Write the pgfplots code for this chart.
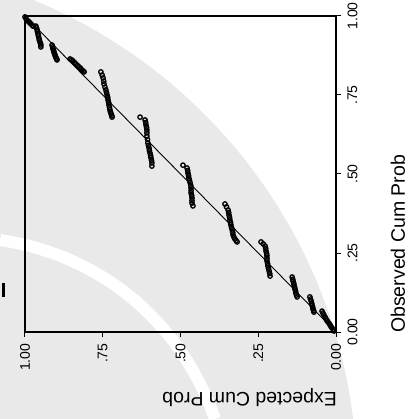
\documentclass[border=0pt]{standalone}
\usepackage{fontspec}
\setmainfont{Liberation Sans}
\usepackage{pgfplots}
\pgfplotsset{compat=1.18}
\usepackage{pgfplotstable}
\definecolor{wm}{RGB}{233,233,233}

\pgfplotstableread{
exp obs
1.000 0.997
0.997 0.992
0.994 0.987
0.990 0.984
0.987 0.981
0.984 0.978
0.981 0.975
0.977 0.971
0.974 0.968
0.965 0.968
0.963 0.962
0.961 0.956
0.960 0.950
0.958 0.943
0.957 0.937
0.955 0.930
0.954 0.924
0.952 0.918
0.950 0.913
0.949 0.908
0.949 0.902
0.913 0.908
0.911 0.902
0.910 0.896
0.908 0.891
0.907 0.886
0.905 0.881
0.904 0.877
0.902 0.872
0.900 0.867
0.898 0.864
0.897 0.861
0.855 0.864
0.850 0.861
0.846 0.858
0.841 0.853
0.836 0.848
0.831 0.843
0.826 0.839
0.821 0.834
0.817 0.829
0.813 0.826
0.810 0.823
0.756 0.823
0.752 0.813
0.749 0.804
0.747 0.794
0.746 0.785
0.743 0.775
0.740 0.766
0.738 0.758
0.736 0.750
0.734 0.742
0.733 0.734
0.731 0.726
0.730 0.718
0.728 0.710
0.727 0.703
0.725 0.696
0.723 0.690
0.721 0.685
0.720 0.680
0.630 0.680
0.614 0.671
0.612 0.663
0.611 0.655
0.609 0.647
0.608 0.639
0.608 0.630
0.608 0.620
0.606 0.609
0.605 0.598
0.603 0.590
0.601 0.582
0.600 0.574
0.598 0.566
0.596 0.558
0.595 0.551
0.593 0.543
0.592 0.535
0.592 0.525
0.492 0.528
0.479 0.519
0.477 0.511
0.476 0.503
0.474 0.495
0.473 0.487
0.471 0.480
0.469 0.472
0.467 0.464
0.466 0.456
0.466 0.448
0.466 0.440
0.464 0.432
0.463 0.424
0.463 0.416
0.463 0.408
0.460 0.399
0.357 0.405
0.352 0.396
0.347 0.386
0.345 0.378
0.344 0.370
0.342 0.362
0.341 0.354
0.339 0.346
0.338 0.339
0.336 0.331
0.334 0.323
0.332 0.315
0.331 0.307
0.328 0.300
0.325 0.294
0.321 0.289
0.318 0.285
0.241 0.285
0.234 0.279
0.228 0.272
0.226 0.264
0.225 0.256
0.223 0.248
0.222 0.241
0.222 0.233
0.222 0.225
0.220 0.217
0.219 0.209
0.217 0.201
0.215 0.193
0.213 0.185
0.212 0.177
0.141 0.174
0.139 0.167
0.138 0.161
0.136 0.155
0.135 0.149
0.133 0.142
0.132 0.136
0.130 0.130
0.129 0.123
0.127 0.117
0.125 0.111
0.084 0.111
0.082 0.104
0.080 0.098
0.078 0.091
0.077 0.085
0.075 0.079
0.074 0.073
0.072 0.068
0.071 0.063
0.045 0.066
0.042 0.060
0.039 0.054
0.035 0.047
0.032 0.041
0.029 0.036
0.026 0.032
0.022 0.027
0.019 0.022
0.016 0.017
0.013 0.013
0.009 0.008
0.006 0.003
}\pp

\begin{document}
\begin{tikzpicture}
\path[use as bounding box] (0pt,0pt) rectangle (414pt,-419pt);
\begin{scope}
  \clip (0pt,0pt) rectangle (414pt,-419pt);
  \fill[wm] (-165pt,-483pt) circle (522pt);
  \draw[white, line width=12pt] (0pt,-240pt) .. controls (100pt,-255pt) and (180pt,-320pt) .. (215pt,-419pt);
\end{scope}
\fill[black] (2pt,-283pt) rectangle (5pt,-297pt);
\begin{axis}[
  at={(25pt,-332pt)}, anchor=south west,
  scale only axis, width=311pt, height=316pt,
  xmin=0, xmax=1, ymin=0, ymax=1,
  x dir=reverse,
  xtick={0,0.25,0.5,0.75,1}, xticklabels={0.00,.25,.50,.75,1.00},
  ytick={0,0.25,0.5,0.75,1}, yticklabels={0.00,.25,.50,.75,1.00},
  xtick pos=bottom, ytick pos=right, yticklabel pos=right,
  tick align=outside, major tick length=5pt,
  xticklabel shift=3pt, yticklabel shift=3pt,
  tick style={line width=1pt, black},
  xticklabel style={rotate=90, anchor=east, font=\fontsize{14}{15}\selectfont},
  yticklabel style={rotate=90, anchor=north, font=\fontsize{14}{15}\selectfont},
  axis line style={line width=1.1pt},
  clip=false,
]
\addplot[black, line width=0.9pt] coordinates {(0,0) (1,1)};
\addplot[only marks, mark=o, mark size=2.2pt, mark options={line width=1.3pt, black}] table[x=exp, y=obs] {\pp};
\end{axis}
\node[anchor=west, rotate=180, font=\fontsize{19.5}{20}\selectfont, inner sep=0pt] at (337pt,-398pt) {Expected Cum Prob};
\node[anchor=west, rotate=90, font=\fontsize{19.5}{20}\selectfont, inner sep=0pt] at (398pt,-333pt) {Observed Cum Prob};
\end{tikzpicture}
\end{document}
